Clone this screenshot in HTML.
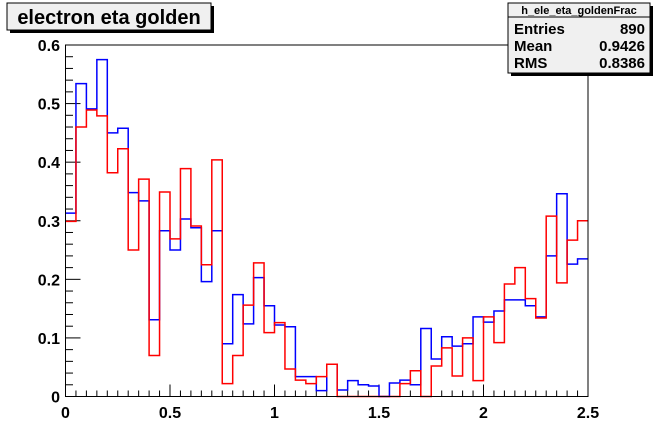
<!DOCTYPE html>
<html><head><meta charset="utf-8"><style>
body{margin:0;background:#fff}
svg{display:block;font-family:"Liberation Sans",Arial,sans-serif}
</style></head><body>
<svg id="c" width="653" height="441" viewBox="0 0 653 441">
<rect x="0" y="0" width="653" height="441" fill="#fff"/>
<g id="axes"></g>
<g id="series"></g>
<rect x="65.5" y="45" width="522.5" height="351.5" fill="none" stroke="#000" stroke-width="1"/>
<g>
<rect x="10" y="6" width="204" height="27" fill="#000"/>
<rect x="7" y="3" width="204" height="27" fill="#f0f0f0" stroke="#000" stroke-width="1"/>
<text x="109" y="24" text-anchor="middle" font-size="20" font-weight="bold">electron eta golden</text>
</g>
<g>
<rect x="511" y="6" width="142" height="70" fill="#000"/>
<rect x="508" y="3" width="142" height="70" fill="#f0f0f0" stroke="#000" stroke-width="1"/>
<line x1="508" y1="17" x2="650" y2="17" stroke="#000"/>
<text x="579" y="14" text-anchor="middle" font-size="11" font-weight="bold">h_ele_eta_goldenFrac</text>
<text x="514" y="34" font-size="15" font-weight="bold">Entries</text>
<text x="645" y="34" text-anchor="end" font-size="15" font-weight="bold">890</text>
<text x="514" y="51" font-size="15" font-weight="bold">Mean</text>
<text x="645" y="51" text-anchor="end" font-size="15" font-weight="bold">0.9426</text>
<text x="514" y="68" font-size="15" font-weight="bold">RMS</text>
<text x="645" y="68" text-anchor="end" font-size="15" font-weight="bold">0.8386</text>
</g>
</svg>
<script>
const blueValues=[0.313,0.534,0.491,0.575,0.450,0.458,0.348,0.334,0.131,0.283,0.250,0.303,0.288,0.196,0.283,0.090,0.174,0.124,0.203,0.155,0.122,0.119,0.034,0.034,0.010,0.055,0.011,0.027,0.020,0.018,0,0.023,0.028,0.020,0.116,0.064,0.102,0.086,0.090,0.136,0.127,0.146,0.165,0.165,0.155,0.136,0.240,0.346,0.226,0.235];
const redValues=[0.299,0.460,0.489,0.479,0.382,0.423,0.250,0.371,0.070,0.349,0.269,0.389,0.291,0.225,0.404,0.022,0.070,0.156,0.228,0.109,0.126,0.047,0.028,0.022,0.034,0.055,0,0,0,0,0,0,0.022,0.044,0,0.052,0.083,0.035,0.100,0.027,0.136,0.092,0.192,0.220,0.167,0.134,0.308,0.194,0.267,0.300];
const xTickLabels=["0","0.5","1","1.5","2","2.5"];
const yTickLabels=["0","0.1","0.2","0.3","0.4","0.5","0.6"];
const xMin=0,xMax=2.5,yMin=0,yMax=0.6;
const L=65.5,R=588,T=45,B=396.5;
const sx=v=>L+(v-xMin)/(xMax-xMin)*(R-L);
const sy=v=>B-(v-yMin)/(yMax-yMin)*(B-T);
const NS="http://www.w3.org/2000/svg";
const axes=document.getElementById('axes'),series=document.getElementById('series');
function ln(x1,y1,x2,y2,name){const e=document.createElementNS(NS,'line');e.setAttribute('x1',x1);e.setAttribute('y1',y1);e.setAttribute('x2',x2);e.setAttribute('y2',y2);e.setAttribute('stroke','#000');


axes.appendChild(e);}
function tx(x,y,s,anchor,name){const e=document.createElementNS(NS,'text');e.setAttribute('x',x);e.setAttribute('y',y);e.setAttribute('text-anchor',anchor);e.setAttribute('font-size','16');e.setAttribute('font-weight','bold');e.textContent=s;


axes.appendChild(e);}
for(let i=0;i<=50;i++){const v=i*0.05,x=sx(v);ln(x,B,x,B-(i%10==0?12:6),'x-tick');}
for(let i=0;i<=30;i++){const v=i*0.02,y=sy(v);ln(L,y,L+(i%5==0?15:7.5),y,'y-tick');}
xTickLabels.forEach(s=>tx(sx(parseFloat(s)),418,s,'middle','x-tick-label'));
yTickLabels.forEach(s=>tx(60,sy(parseFloat(s))+6,s,'end','y-tick-label'));
function hist(vals,color,name){const w=(xMax-xMin)/vals.length;let d='M'+sx(0)+','+sy(vals[0]);
vals.forEach((v,i)=>{d+=' L'+sx(i*w)+','+sy(v)+' L'+sx((i+1)*w)+','+sy(v);});
const p=document.createElementNS(NS,'path');p.setAttribute('d',d);p.setAttribute('fill','none');p.setAttribute('stroke',color);p.setAttribute('stroke-width','1.5');


series.appendChild(p);}
hist(blueValues,'#0000ff','blue-histogram');
hist(redValues,'#ff0000','red-histogram');
</script>
</body></html>
